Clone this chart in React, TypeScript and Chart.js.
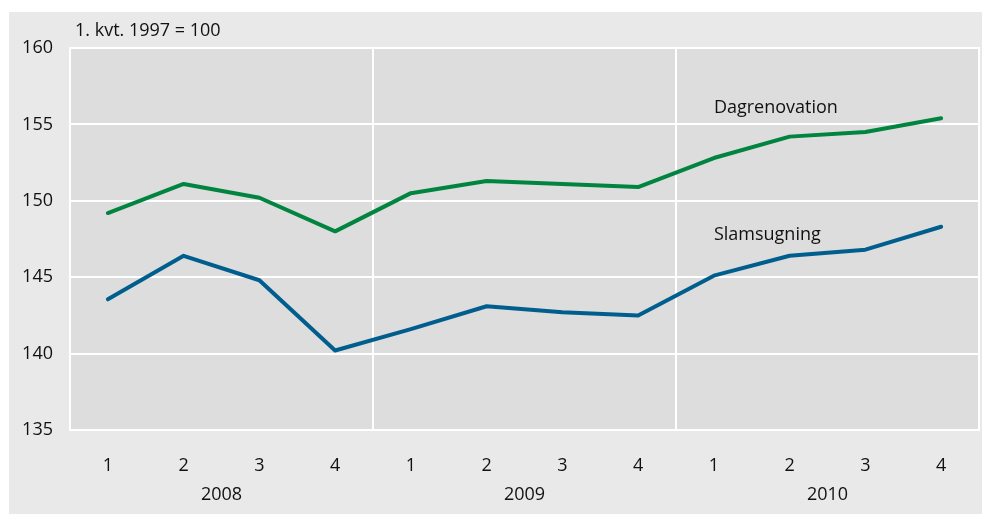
import React, { useEffect, useRef } from "react";
import { Chart, registerables } from "chart.js";

Chart.register(...registerables);

const quarters = ["1", "2", "3", "4", "1", "2", "3", "4", "1", "2", "3", "4"];
const years = ["2008", "2009", "2010"];
const dagrenovation = [149.2, 151.1, 150.2, 148.0, 150.5, 151.3, 151.1, 150.9, 152.8, 154.2, 154.5, 155.4];
const slamsugning = [143.55, 146.4, 144.8, 140.2, 141.6, 143.1, 142.7, 142.5, 145.1, 146.4, 146.8, 148.3];
const yTicks = { min: 135, max: 160, step: 5 };
const unitLabel = "1. kvt. 1997 = 100";
const seriesNames = ["Dagrenovation", "Slamsugning"];

const FONT = "'Open Sans', sans-serif";
const TEXT = "#111111";
const FS = 18;

export default function App() {
  const ref = useRef<HTMLCanvasElement>(null);
  useEffect(() => {
    if (!ref.current) return;
    const bgPlugin = {
      id: "bg",
      beforeDraw(chart: any) {
        const { ctx, chartArea } = chart;
        ctx.save();
        ctx.fillStyle = "#e9e9e9";
        ctx.fillRect(9, 12, 973, 502);
        ctx.fillStyle = "#dddddd";
        ctx.fillRect(chartArea.left, chartArea.top, chartArea.right - chartArea.left, chartArea.bottom - chartArea.top);
        ctx.strokeStyle = "#ffffff";
        ctx.lineWidth = 2;
        ctx.strokeRect(chartArea.left, chartArea.top, chartArea.right - chartArea.left, chartArea.bottom - chartArea.top);
        ctx.restore();
      },
      afterDraw(chart: any) {
        const { ctx, chartArea } = chart;
        ctx.save();
        ctx.fillStyle = TEXT;
        ctx.font = `${FS}px ${FONT}`;
        ctx.textBaseline = "middle";
        ctx.textAlign = "left";
        ctx.fillText(unitLabel, chartArea.left + 5, 31);
        const xs = chart.scales.x;
        const ys = chart.scales.y;
        const lx = xs.getPixelForValue(8);
        ctx.fillText(seriesNames[0], lx, ys.getPixelForValue(156.1));
        ctx.fillText(seriesNames[1], lx, ys.getPixelForValue(147.75));
        ctx.restore();
      },
    };
    const chart = new Chart(ref.current, {
      type: "line",
      data: {
        labels: quarters,
        datasets: [
          {
            label: seriesNames[0],
            data: dagrenovation,
            borderColor: "#00843f",
            borderWidth: 4,
            pointRadius: 0,
            tension: 0,
            borderCapStyle: "round",
            borderJoinStyle: "round",
          },
          {
            label: seriesNames[1],
            data: slamsugning,
            borderColor: "#005e8e",
            borderWidth: 4,
            pointRadius: 0,
            tension: 0,
            borderCapStyle: "round",
            borderJoinStyle: "round",
          },
        ],
      },
      options: {
        responsive: false,
        animation: false,
        layout: { padding: { left: 0, top: 48, right: 3, bottom: 0 } },
        plugins: { legend: { display: false }, tooltip: { enabled: false } },
        scales: {
          x: {
            type: "category",
            position: "bottom",
            offset: true,
            grid: { display: false, drawTicks: false },
            border: { display: false },
            ticks: { color: TEXT, font: { family: FONT, size: FS }, padding: 25, maxRotation: 0, autoSkip: false },
            afterFit(s: any) { s.height = 50; },
          },
          x2: {
            type: "category",
            position: "bottom",
            labels: years,
            offset: true,
            grid: { display: true, offset: true, color: "#ffffff", lineWidth: 2, drawTicks: false },
            border: { display: false },
            ticks: { color: TEXT, font: { family: FONT, size: FS }, padding: 4, maxRotation: 0 },
            afterFit(s: any) { s.height = 34; },
          },
          y: {
            min: yTicks.min,
            max: yTicks.max,
            ticks: { stepSize: yTicks.step, color: TEXT, font: { family: FONT, size: FS }, padding: 17 },
            grid: { color: "#ffffff", lineWidth: 2, drawTicks: false },
            border: { display: false },
            afterFit(s: any) { s.width = 70; },
          },
        },
      },
      plugins: [bgPlugin],
    } as any);
    return () => chart.destroy();
  }, []);
  return (
    <div style={{ position: "fixed", left: 0, top: 0, width: 982, height: 514, background: "#ffffff" }}>
      <canvas ref={ref} width={982} height={514} style={{ display: "block" }} />
    </div>
  );
}
